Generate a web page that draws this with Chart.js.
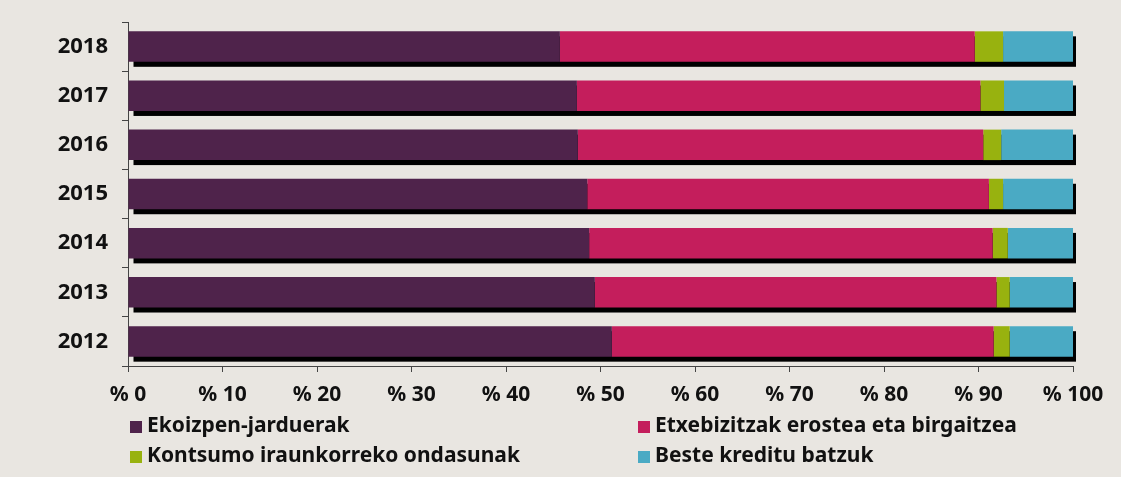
<!DOCTYPE html>
<html lang="eu">
<head>
  <meta charset="UTF-8">
  <title>Kredituak helburuaren arabera</title>
  <script src="https://cdn.jsdelivr.net/npm/chart.js"></script>
  <style>
    html, body { margin: 0; padding: 0; background: #e9e6e1; }
    .wrap { position: relative; width: 1121px; height: 477px; }
    .legend-item {
      position: absolute;
      height: 26px;
      line-height: 26px;
      font-family: "Noto Sans", sans-serif;
      font-weight: 700;
      font-size: 21px;
      color: #111;
      white-space: nowrap;
    }
    .legend-item span {
      display: inline-block;
      width: 12px;
      height: 12px;
      margin-right: 5px;
      vertical-align: -1px;
    }
  </style>
</head>
<body>
<div class="wrap">
  <canvas id="chart" width="1121" height="477"></canvas>
  <div id="legend"></div>
</div>

<script>
  const years = ['2018', '2017', '2016', '2015', '2014', '2013', '2012'];
  const seriesNames = [
    'Ekoizpen-jarduerak',
    'Etxebizitzak erostea eta birgaitzea',
    'Kontsumo iraunkorreko ondasunak',
    'Beste kreditu batzuk'
  ];
  const colors = ['#4f234b', '#c41e5c', '#98b20f', '#4aaac4'];

  // percentage shares per year (2018 -> 2012)
  const ekoizpen    = [45.7, 47.5, 47.6, 48.6, 48.8, 49.4, 51.2];
  const etxebizitza = [43.9, 42.7, 42.9, 42.5, 42.7, 42.5, 40.4];
  const kontsumoa   = [3.0, 2.5, 1.9, 1.5, 1.6, 1.4, 1.7];
  const besteak     = [7.4, 7.3, 7.6, 7.4, 6.9, 6.7, 6.7];

  const xTicks = [0, 10, 20, 30, 40, 50, 60, 70, 80, 90, 100];

  const seriesData = [ekoizpen, etxebizitza, kontsumoa, besteak];

  // hard black shadow behind each whole stacked bar
  const shadowPlugin = {
    id: 'barShadow',
    beforeDatasetsDraw(chart) {
      const ctx = chart.ctx;
      const first = chart.getDatasetMeta(0).data;
      const last = chart.getDatasetMeta(chart.data.datasets.length - 1).data;
      ctx.save();
      ctx.fillStyle = '#000';
      first.forEach((bar, i) => {
        const p = bar.getProps(['base', 'y', 'height'], true);
        const end = last[i].getProps(['x'], true).x;
        ctx.fillRect(p.base + 5, p.y - p.height / 2 + 5, end - p.base - 2, p.height);
      });
      ctx.restore();
    }
  };

  const yFont = { family: '"Noto Sans", sans-serif', weight: 'bold', size: 22 };
  const xFont = { family: '"Noto Sans", sans-serif', weight: 'bold', size: 21 };

  new Chart(document.getElementById('chart'), {
    type: 'bar',
    data: {
      labels: years,
      datasets: seriesData.map((d, i) => ({
        label: seriesNames[i],
        data: d,
        backgroundColor: colors[i],
        borderWidth: 0,
        barPercentage: 0.62,
        categoryPercentage: 1
      }))
    },
    options: {
      indexAxis: 'y',
      responsive: false,
      animation: false,
      layout: { padding: { top: 22, right: 48, left: 0, bottom: 0 } },
      plugins: {
        legend: { display: false },
        tooltip: { enabled: false }
      },
      scales: {
        x: {
          stacked: true,
          min: 0,
          max: 100,
          afterBuildTicks(scale) {
            scale.ticks = xTicks.map(v => ({ value: v }));
          },
          afterFit(scale) {
            scale.height = 111;
            scale.paddingLeft = 0;
            scale.paddingRight = 0;
          },
          border: { color: '#444', width: 1 },
          grid: { drawOnChartArea: false, tickLength: 6, color: '#444' },
          ticks: {
            padding: 10,
            color: '#111',
            font: xFont,
            callback: v => '% ' + v
          }
        },
        y: {
          stacked: true,
          afterFit(scale) {
            scale.width = 128;
            scale.paddingTop = 0;
            scale.paddingBottom = 0;
          },
          border: { color: '#444', width: 1 },
          grid: { drawOnChartArea: false, tickLength: 6, color: '#444', offset: true },
          ticks: { padding: 14, color: '#111', font: yFont }
        }
      }
    },
    plugins: [shadowPlugin]
  });

  // two-column legend under the axis
  const legend = document.getElementById('legend');
  const cols = [130, 638];
  const rows = [411, 441];
  seriesNames.forEach((name, i) => {
    const item = document.createElement('div');
    item.className = 'legend-item';
    item.style.left = cols[i % 2] + 'px';
    item.style.top = rows[Math.floor(i / 2)] + 'px';
    item.innerHTML = '<span style="background:' + colors[i] + '"></span>' + name;
    legend.appendChild(item);
  });
</script>
</body>
</html>
